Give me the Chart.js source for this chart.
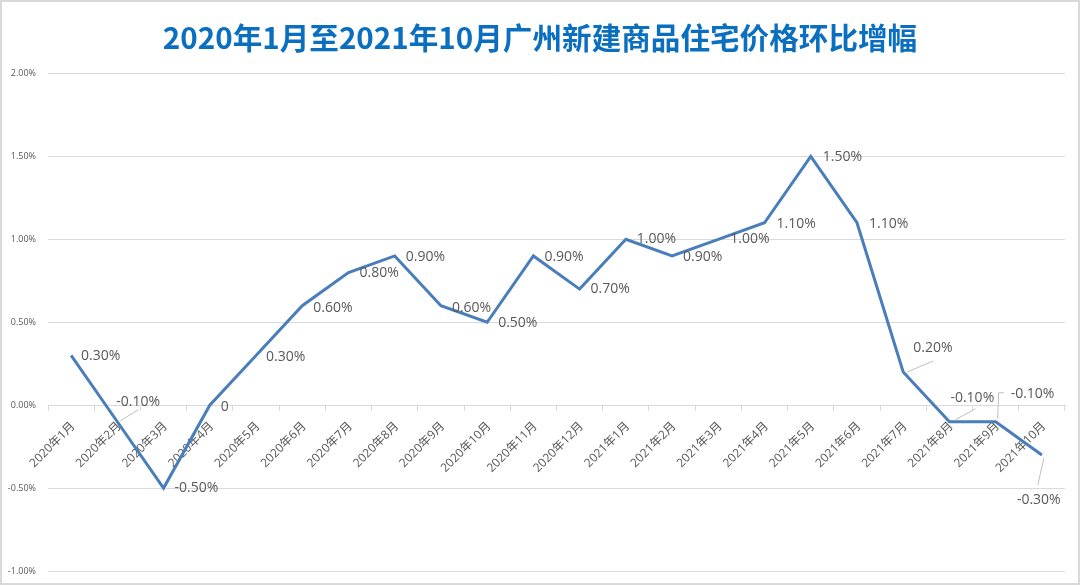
<!DOCTYPE html>
<html>
<head>
<meta charset="utf-8">
<script src="https://cdn.jsdelivr.net/npm/chart.js@4/dist/chart.umd.min.js"></script>
<style>
  html, body { margin: 0; padding: 0; background: #fff; }
  #wrap { position: relative; width: 1080px; height: 585px; }
  #frame { position: absolute; left: 0; top: 0; width: 1080px; height: 585px; box-sizing: border-box; border: 2px solid #d9d9d9; pointer-events: none; }
</style>
</head>
<body>
<div id="wrap">
  <canvas id="c" width="1080" height="585"></canvas>
  <div id="frame"></div>
</div>
<script>
const titleText = '2020年1月至2021年10月广州新建商品住宅价格环比增幅';
const categories = [
  '2020年1月','2020年2月','2020年3月','2020年4月','2020年5月','2020年6月',
  '2020年7月','2020年8月','2020年9月','2020年10月','2020年11月','2020年12月',
  '2021年1月','2021年2月','2021年3月','2021年4月','2021年5月','2021年6月',
  '2021年7月','2021年8月','2021年9月','2021年10月'
];
const growthPct = [
  0.30, -0.10, -0.50, 0, 0.30, 0.60,
  0.80, 0.90, 0.60, 0.50, 0.90, 0.70,
  1.00, 0.90, 1.00, 1.10, 1.50, 1.10,
  0.20, -0.10, -0.10, -0.30
];
const yTicks = [-1.0, -0.5, 0, 0.5, 1.0, 1.5, 2.0];

// label placement style (pixel offsets from each point: text left edge, text middle)
const labelOffsets = [
  [10,1],[-1,-20],[11,0],[11,2],[10,2],[11,2],
  [11,1],[11,1],[11,2],[11,1],[11,1],[11,0],
  [11,0],[11,1],[12,0],[12,1],[12,1],[12,1],
  [10,-24],[1,-24],[15,-28],[-25,45]
];
// leader lines (polyline offsets from point), null = none
const leaders = [
  null, [[3,-1],[21,-12]], null, null, null, null,
  null, null, null, null, null, null,
  null, null, null, null, null, null,
  [[4,0],[30,-11]], [[6,-2],[26,-13]], [[2,-3],[3,-29],[8,-29]], [[2,3],[-4,30]]
];

function fmt(v) { return v === 0 ? '0' : v.toFixed(2) + '%'; }

const dataLabelPlugin = {
  id: 'dataLabels',
  afterDatasetsDraw(chart) {
    const ctx = chart.ctx;
    const meta = chart.getDatasetMeta(0);
    ctx.save();
    meta.data.forEach((pt, i) => {
      const x = pt.x, y = pt.y;
      const ld = leaders[i];
      if (ld) {
        ctx.beginPath();
        ctx.strokeStyle = '#bfbfbf';
        ctx.lineWidth = 1;
        ld.forEach((p, k) => { if (k === 0) ctx.moveTo(x + p[0], y + p[1]); else ctx.lineTo(x + p[0], y + p[1]); });
        ctx.stroke();
      }
      const off = labelOffsets[i];
      ctx.font = '14px "Open Sans", "Noto Sans", sans-serif';
      ctx.fillStyle = '#595959';
      ctx.textAlign = 'left';
      ctx.textBaseline = 'middle';
      ctx.fillText(fmt(growthPct[i]), x + off[0], y + off[1]);
    });
    ctx.restore();
  }
};

new Chart(document.getElementById('c'), {
  type: 'line',
  data: {
    labels: categories,
    datasets: [{
      data: growthPct,
      borderColor: '#4a7ebb',
      borderWidth: 3,
      pointRadius: 0,
      pointHoverRadius: 0,
      tension: 0,
      fill: false
    }]
  },
  options: {
    responsive: false,
    animation: false,
    events: [],
    layout: { padding: { left: 0, right: 0, top: 0, bottom: 14 } },
    plugins: {
      legend: { display: false },
      tooltip: { enabled: false },
      title: {
        display: true,
        text: titleText,
        color: '#0b6fc0',
        font: { family: '"Noto Sans CJK SC", "Noto Sans", sans-serif', size: 29.6, weight: 'bold' },
        padding: { top: 20, bottom: 18 }
      }
    },
    scales: {
      x: {
        type: 'category',
        position: { y: 0 },
        offset: true,
        afterFit(scale) { scale.height = 0; scale.paddingLeft = 0; scale.paddingRight = 0; },
        grid: {
          display: true,
          offset: true,
          drawOnChartArea: false,
          drawTicks: true,
          tickLength: 5,
          color: '#d9d9d9'
        },
        border: { display: true, color: '#d9d9d9' },
        ticks: {
          color: '#595959',
          font: { family: '"Open Sans", "Noto Sans CJK SC", sans-serif', size: 12 },
          maxRotation: 45,
          minRotation: 45,
          autoSkip: false,
          padding: 9,
          labelOffset: 2
        }
      },
      y: {
        min: -1.0,
        max: 2.0,
        afterBuildTicks(scale) { scale.ticks = yTicks.map(v => ({ value: v })); },
        afterFit(scale) { scale.width = 48; scale.paddingTop = 0; scale.paddingBottom = 0; },
        grid: { color: '#d9d9d9', drawTicks: false, lineWidth: 1 },
        border: { display: false },
        ticks: {
          color: '#595959',
          padding: 12,
          font: { family: '"Open Sans", "Noto Sans", sans-serif', size: 9 },
          callback: v => v.toFixed(2) + '%'
        }
      },
      yRight: {
        type: 'linear',
        position: 'right',
        display: true,
        min: -1.0,
        max: 2.0,
        afterFit(scale) { scale.width = 15; scale.paddingTop = 0; scale.paddingBottom = 0; },
        grid: { display: false, drawTicks: false },
        border: { display: false },
        ticks: { display: false }
      }
    }
  },
  plugins: [dataLabelPlugin]
});
</script>
</body>
</html>
